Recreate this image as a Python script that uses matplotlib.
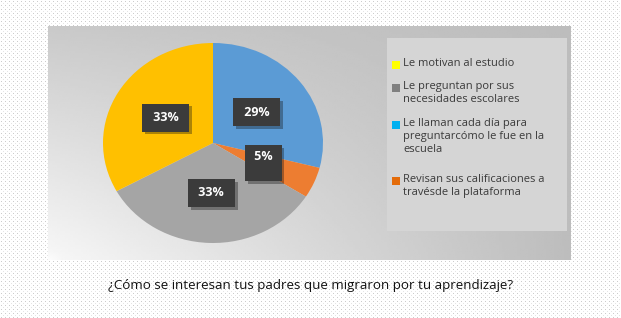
import numpy as np
import matplotlib
matplotlib.use("Agg")
import matplotlib.pyplot as plt
from matplotlib.patches import Rectangle
import matplotlib.patheffects as pe

# ---- data (legend order) ----
categories = [
    "Le motivan al estudio",
    "Le preguntan por sus\nnecesidades escolares",
    "Le llaman cada día para\npreguntarcómo le fue en la\nescuela",
    "Revisan sus calificaciones a\ntravésde la plataforma",
]
values = [33, 33, 29, 5]
pie_colors = ["#FFC000", "#A5A5A5", "#5B9BD5", "#ED7D31"]
legend_colors = ["#FFFF00", "#808080", "#00B0F0", "#E46C0A"]
draw_order = [2, 3, 1, 0]  # clockwise from 12 o'clock
title = "¿Cómo se interesan tus padres que migraron por tu aprendizaje?"

W, H = 621, 318
fig = plt.figure(figsize=(W / 100, H / 100), dpi=100)

# background axes in pixel coordinates
bg = fig.add_axes([0, 0, 1, 1])
bg.set_xlim(0, W)
bg.set_ylim(H, 0)
bg.axis("off")

# dotted paper pattern
pat = np.ones((H, W, 3))
yy, xx = np.mgrid[0:H, 0:W]
dots = (yy % 4 == 1) & (xx % 4 == 1)
pat[dots] = 0.80
dots2 = (yy % 4 == 3) & (xx % 4 == 3)
pat[dots2] = 0.90
bg.imshow(pat, extent=(0, W, H, 0), interpolation="nearest", zorder=0)

# gray panel with gradient
px0, px1, py0, py1 = 48, 571, 26, 260
gh, gw = 100, 200
u = np.linspace(0, 1, gw)[None, :]
v = np.linspace(0, 1, gh)[:, None]
tl, tr, bl, br = 0.79, 0.74, 0.97, 0.74
g = tl * (1 - u) * (1 - v) + tr * u * (1 - v) + bl * (1 - u) * v + br * u * v
rad = np.sqrt((u * 1.8) ** 2 + ((1 - v) * 1.4) ** 2)
g = np.maximum(g, 0.99 - 0.3 * np.clip(rad, 0, 1) ** 0.8)
g = np.minimum(g, 0.99)
bg.imshow(g, cmap="gray", vmin=0, vmax=1, extent=(px0, px1, py1, py0),
          aspect="auto", interpolation="bilinear", zorder=1)

# legend box
lx0, lx1, ly0, ly1 = 387, 567, 38, 231
bg.add_patch(Rectangle((lx0, ly0), lx1 - lx0, ly1 - ly0, facecolor="#d5d5d5",
                       edgecolor="none", zorder=2))
entry_y = [65, 88, 125, 181]
for cat, col, y in zip(categories, legend_colors, entry_y):
    bg.add_patch(Rectangle((392, y - 4), 8, 8, facecolor=col, edgecolor="none", zorder=3))
    bg.text(403, y - 7, cat, fontsize=8.0, color="#3a3a3a", family="Open Sans",
            va="top", ha="left", linespacing=1.28, zorder=3)

# title
bg.text(311, 285, title, fontsize=9.6, family="Open Sans", color="#111111",
        ha="center", va="center")

# pie (slightly elliptical as in reference)
cx, cy, rx, ry = 213, 143, 110, 100
pax = fig.add_axes([(cx - rx) / W, (H - cy - ry) / H, 2 * rx / W, 2 * ry / H])
vals = [values[i] for i in draw_order]
cols = [pie_colors[i] for i in draw_order]
wedges, texts, autotexts = pax.pie(vals, colors=cols, startangle=90, counterclock=False,
                                   autopct="%d%%", pctdistance=0.5,
                                   wedgeprops=dict(linewidth=0),
                                   textprops=dict(color="white", fontsize=9,
                                                  fontweight="bold", family="Open Sans"))
pax.set_xlim(-1, 1)
pax.set_ylim(-1, 1)
pax.set_aspect("auto")
pax.axis("off")
for t, idx in zip(autotexts, draw_order):
    t.set_text(f" {values[idx]}% ")
    pad = "square,pad=0.6"
    if values[idx] < 10:
        t.set_text(f" {values[idx]}% \n")
        t.set_linespacing(0.9)
        pad = "square,pad=0.45"
    t.set_bbox(dict(boxstyle=pad, facecolor="#3b3b3b", edgecolor="none"))
    t.get_bbox_patch().set_path_effects([pe.SimplePatchShadow(offset=(2, -2), alpha=0.35),
                                         pe.Normal()])

fig.savefig("out.png", dpi=100)
